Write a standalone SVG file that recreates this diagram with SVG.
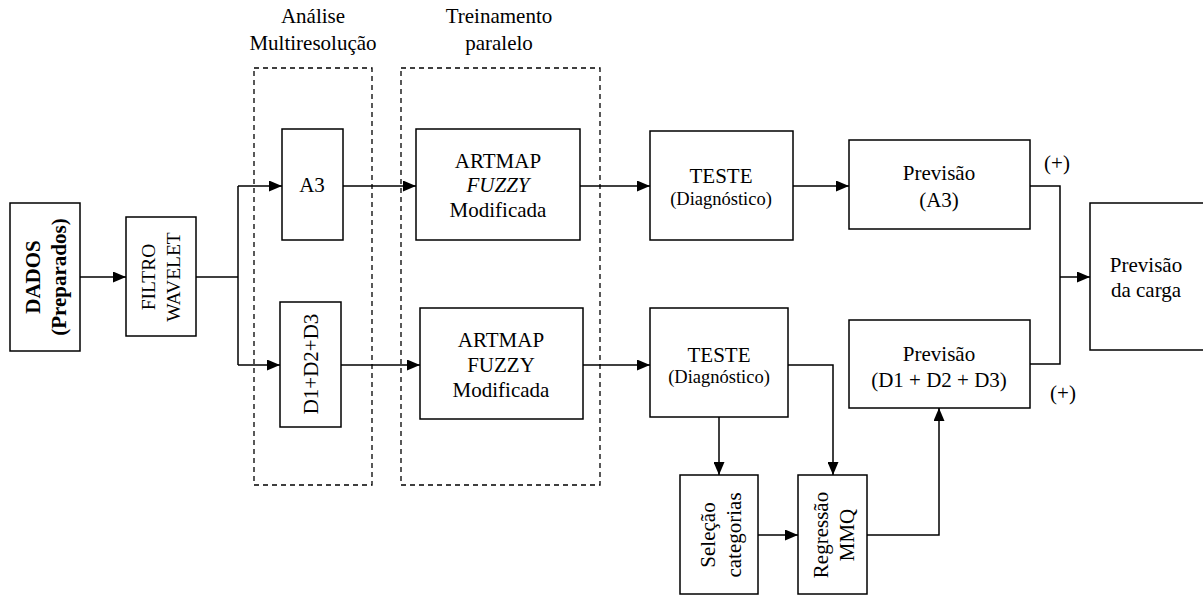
<svg xmlns="http://www.w3.org/2000/svg" width="1203" height="595" viewBox="0 0 1203 595">
  <style>
    .box { fill: #fff; stroke: #000; stroke-width: 1.5; }
    .group { fill: none; stroke: #000; stroke-width: 1.3; stroke-dasharray: 5 4; }
    .wire { fill: none; stroke: #000; stroke-width: 1.5; }
    text { font-family: "Liberation Serif", "Times New Roman", serif; font-size: 21px; fill: #000; text-anchor: middle; }
    .small { font-size: 18.5px; }
    .bold { font-weight: bold; }
  </style>
  <defs>
    <marker id="arrow" markerUnits="userSpaceOnUse" markerWidth="13" markerHeight="11" refX="13" refY="5.5" orient="auto">
      <path d="M0,0 L13,5.5 L0,11 z" fill="#000"/>
    </marker>
  </defs>

  <!-- stage captions -->
  <g id="caption-analise">
    <text x="313" y="23">Análise</text>
    <text x="313" y="50">Multiresolução</text>
  </g>
  <g id="caption-treinamento">
    <text x="499" y="23">Treinamento</text>
    <text x="499" y="50">paralelo</text>
  </g>

  <!-- dashed stage frames -->
  <g id="frame-analise"><rect class="group" x="254" y="68" width="118" height="417"/></g>
  <g id="frame-treinamento"><rect class="group" x="401" y="68" width="199" height="417"/></g>

  <!-- connectors -->
  <g id="connectors">
    <path class="wire" d="M80,277 H126" marker-end="url(#arrow)"/>
    <path class="wire" d="M196,277 H238"/>
    <path class="wire" d="M238,186 V365"/>
    <path class="wire" d="M238,186 H282" marker-end="url(#arrow)"/>
    <path class="wire" d="M238,365 H280" marker-end="url(#arrow)"/>
    <path class="wire" d="M343,186 H416" marker-end="url(#arrow)"/>
    <path class="wire" d="M341,365 H420" marker-end="url(#arrow)"/>
    <path class="wire" d="M580,186 H650" marker-end="url(#arrow)"/>
    <path class="wire" d="M583,365 H650" marker-end="url(#arrow)"/>
    <path class="wire" d="M793,186 H849" marker-end="url(#arrow)"/>
    <path class="wire" d="M1030,186 H1060 V364 H1030"/>
    <path class="wire" d="M1060,277 H1090" marker-end="url(#arrow)"/>
    <path class="wire" d="M719,417 V475" marker-end="url(#arrow)"/>
    <path class="wire" d="M788,365 H833 V475" marker-end="url(#arrow)"/>
    <path class="wire" d="M758,535 H798" marker-end="url(#arrow)"/>
    <path class="wire" d="M867,535 H939 V408" marker-end="url(#arrow)"/>
  </g>

  <!-- nodes -->
  <g id="dados">
    <rect class="box" x="10" y="203" width="70" height="148"/>
    <g transform="translate(45,277) rotate(-90)">
      <text class="bold" x="0" y="-5">DADOS</text>
      <text class="bold" x="0" y="21">(Preparados)</text>
    </g>
  </g>

  <g id="filtro">
    <rect class="box" x="126" y="217" width="70" height="119"/>
    <g transform="translate(161,277) rotate(-90)">
      <text x="0" y="-6" style="font-size:19.5px">FILTRO</text>
      <text x="0" y="19" style="font-size:19.5px">WAVELET</text>
    </g>
  </g>

  <g id="a3">
    <rect class="box" x="282" y="129" width="61" height="111"/>
    <text x="312" y="192">A3</text>
  </g>

  <g id="d123">
    <rect class="box" x="280" y="302" width="61" height="125"/>
    <text transform="translate(318,364) rotate(-90)" x="0" y="0">D1+D2+D3</text>
  </g>

  <g id="artmap1">
    <rect class="box" x="416" y="129" width="164" height="111"/>
    <text x="498" y="168">ARTMAP</text>
    <text x="498" y="192" font-style="italic">FUZZY</text>
    <text x="498" y="217">Modificada</text>
  </g>

  <g id="artmap2">
    <rect class="box" x="420" y="308" width="163" height="111"/>
    <text x="501" y="347">ARTMAP</text>
    <text x="501" y="372">FUZZY</text>
    <text x="501" y="397">Modificada</text>
  </g>

  <g id="teste1">
    <rect class="box" x="650" y="131" width="143" height="109"/>
    <text x="721" y="183">TESTE</text>
    <text class="small" x="721" y="205">(Diagnóstico)</text>
  </g>

  <g id="teste2">
    <rect class="box" x="650" y="308" width="138" height="109"/>
    <text x="719" y="362">TESTE</text>
    <text class="small" x="719" y="383">(Diagnóstico)</text>
  </g>

  <g id="previsao-a3">
    <rect class="box" x="849" y="140" width="181" height="89"/>
    <text x="939" y="180">Previsão</text>
    <text x="939" y="207">(A3)</text>
  </g>

  <g id="previsao-d">
    <rect class="box" x="849" y="320" width="181" height="88"/>
    <text x="939" y="361">Previsão</text>
    <text x="939" y="387">(D1 + D2 + D3)</text>
  </g>

  <g id="sinal-a3"><text x="1057" y="170">(+)</text></g>
  <g id="sinal-d"><text x="1063" y="400">(+)</text></g>

  <g id="previsao-carga">
    <rect class="box" x="1090" y="203" width="130" height="147"/>
    <text x="1146" y="272">Previsão</text>
    <text x="1146" y="297">da carga</text>
  </g>

  <g id="selecao">
    <rect class="box" x="680" y="475" width="78" height="119"/>
    <g transform="translate(719,535) rotate(-90)">
      <text x="0" y="-4">Seleção</text>
      <text x="0" y="22">categorias</text>
    </g>
  </g>

  <g id="regressao">
    <rect class="box" x="798" y="475" width="69" height="119"/>
    <g transform="translate(832,535) rotate(-90)">
      <text x="0" y="-4">Regressão</text>
      <text x="0" y="22">MMQ</text>
    </g>
  </g>
</svg>
